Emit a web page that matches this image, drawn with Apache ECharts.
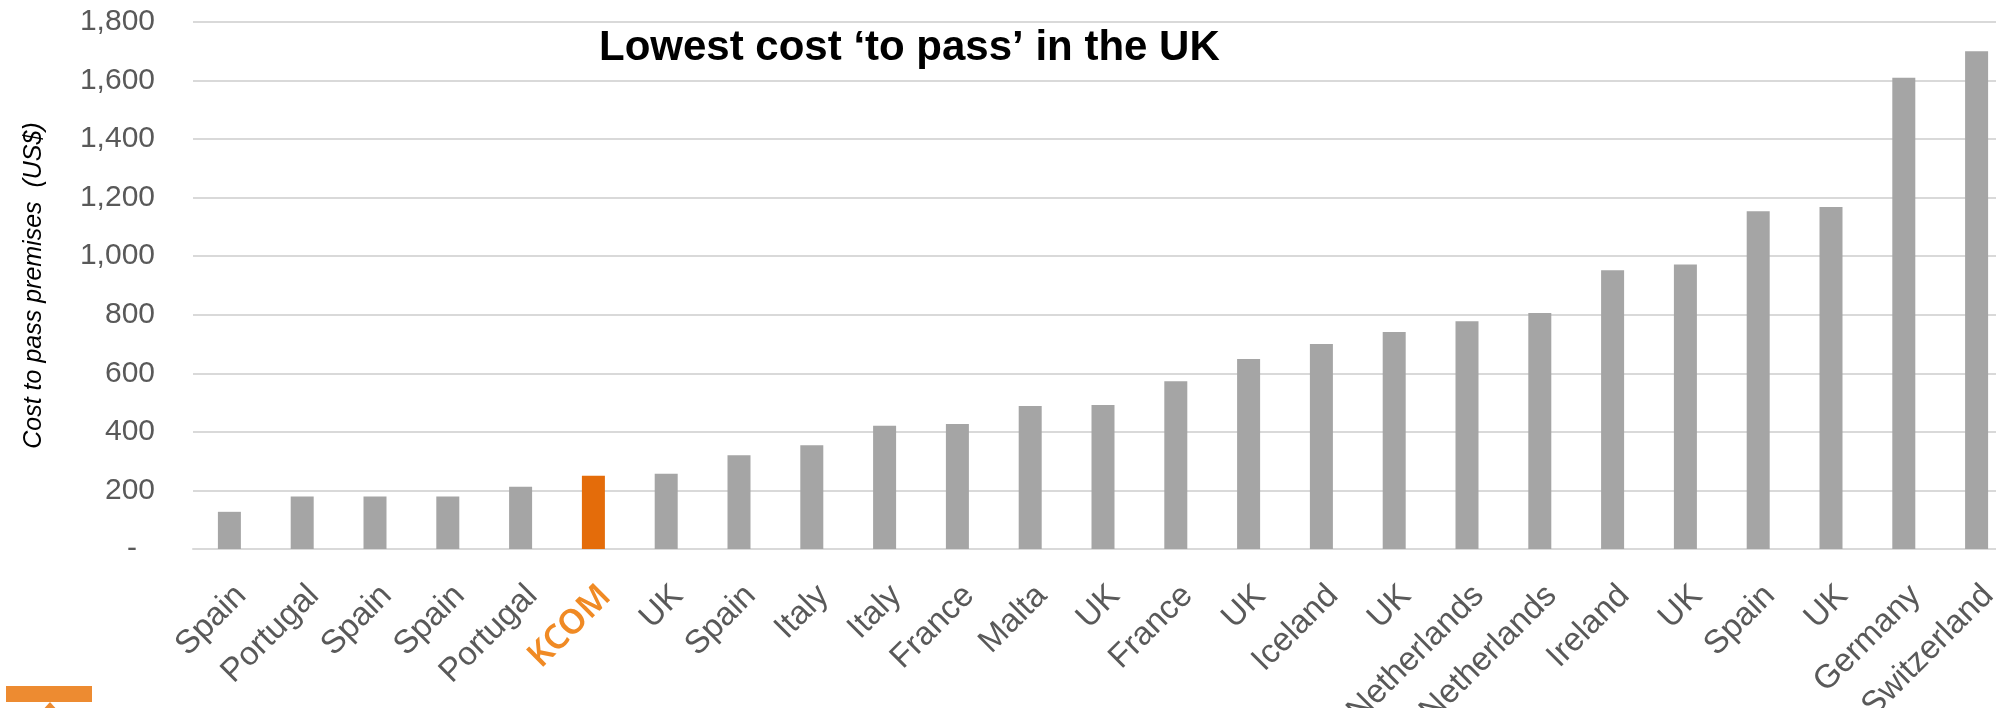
<!DOCTYPE html>
<html>
<head>
<meta charset="utf-8">
<style>
  html, body { margin: 0; padding: 0; background: #ffffff; }
  #chart { width: 1996px; height: 708px; }
</style>
<script src="https://cdn.jsdelivr.net/npm/echarts@6/dist/echarts.min.js"></script>
</head>
<body>
<div id="chart"></div>
<script>
const categories = ['Spain','Portugal','Spain','Spain','Portugal','KCOM','UK','Spain','Italy','Italy','France','Malta','UK','France','UK','Iceland','UK','Netherlands','Netherlands','Ireland','UK','Spain','UK','Germany','Switzerland'];
const costValues = [127,179,179,179,213,250,257,320,354,421,427,488,492,573,649,700,741,778,806,952,972,1154,1168,1610,1700];
const highlightCategory = 'KCOM';
const yTicks = [0,200,400,600,800,1000,1200,1400,1600,1800];
const titleText = 'Lowest cost \u2018to pass\u2019 in the UK';
const yAxisTitle = 'Cost to pass premises  (US$)';

const chart = echarts.init(document.getElementById('chart'), null, { renderer: 'canvas' });

const option = {
  backgroundColor: '#ffffff',
  animation: false,
  title: {
    text: titleText,
    left: 599,
    top: 27,
    padding: 0,
    textStyle: { fontFamily: "'Liberation Sans', Arial, sans-serif", fontWeight: 'bold', fontSize: 42, color: '#000000' }
  },
  grid: { left: 193, top: 22, width: 1820, height: 527, outerBoundsMode: 'none', containLabel: false },
  xAxis: {
    type: 'category',
    data: categories,
    axisLine: { show: true, lineStyle: { color: '#D9D9D9', width: 2 } },
    axisTick: { show: false },
    axisLabel: {
      interval: 0,
      rotate: 45,
      align: 'right',
      verticalAlign: 'top',
      margin: 30,
      formatter: function (v) { return v === highlightCategory ? '{k|' + v + '}' : '{n|' + v + '}'; },
      rich: {
        n: { fontFamily: "'Liberation Sans', Arial, sans-serif", fontSize: 33, color: '#595959' },
        k: { fontFamily: "'Noto Sans', 'Liberation Sans', sans-serif", fontSize: 34, fontWeight: 600, color: '#F08A24' }
      }
    }
  },
  yAxis: {
    type: 'value',
    min: yTicks[0],
    max: yTicks[yTicks.length - 1],
    interval: yTicks[1] - yTicks[0],
    name: yAxisTitle,
    nameLocation: 'middle',
    nameGap: 146,
    nameTextStyle: { fontFamily: "'Liberation Sans', Arial, sans-serif", fontStyle: 'italic', fontSize: 25, color: '#000000' },
    axisLine: { show: false },
    axisTick: { show: false },
    splitLine: { show: true, lineStyle: { color: '#D9D9D9', width: 2 } },
    axisLabel: {
      margin: 38,
      formatter: function (v) { return v === 0 ? '{d|-}' : '{v|' + v.toLocaleString('en-US') + '}'; },
      rich: {
        v: { fontFamily: "'Liberation Sans', Arial, sans-serif", fontSize: 30, color: '#595959' },
        d: { fontFamily: "'Liberation Sans', Arial, sans-serif", fontSize: 30, color: '#595959', padding: [0, 18, 0, 0] }
      }
    }
  },
  series: [{
    type: 'bar',
    data: costValues,
    barWidth: 23,
    itemStyle: {
      color: function (p) { return categories[p.dataIndex] === highlightCategory ? '#E46C0A' : '#A5A5A5'; }
    }
  }],
  graphic: [
    { type: 'rect', shape: { x: 6, y: 686, width: 86, height: 16 }, style: { fill: '#ED8B31' }, silent: true },
    { type: 'polygon', shape: { points: [[50, 702], [41, 712], [59, 712]] }, style: { fill: '#ED8B31' }, silent: true }
  ]
};

chart.setOption(option);
</script>
</body>
</html>
